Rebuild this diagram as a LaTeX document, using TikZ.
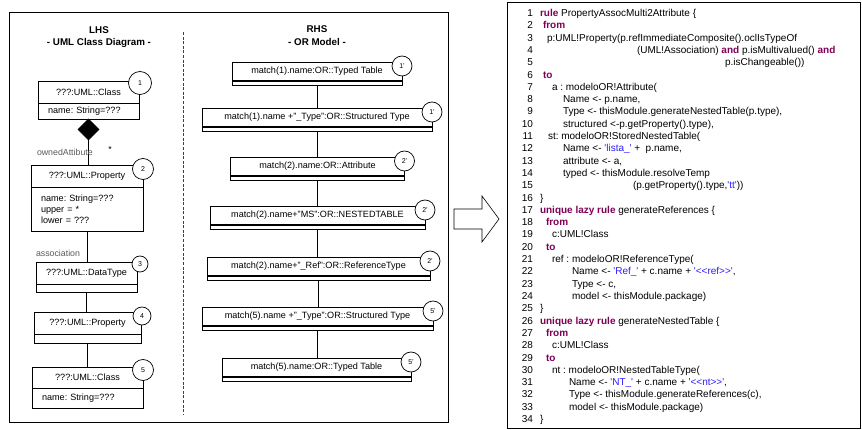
\documentclass[tikz,border=0pt]{standalone}
\usepackage{fontspec}
\setmainfont{Liberation Sans}
\usetikzlibrary{shapes.geometric}
\definecolor{kwcol}{RGB}{127,0,85}
\definecolor{strcol}{RGB}{45,30,255}
\definecolor{lblgray}{RGB}{90,90,90}
\newcommand\umlfont{\fontsize{9.1}{11}\selectfont}
\newcommand\rolefont{\fontsize{8.8}{11}\selectfont}
\newcommand\codefont{\fontsize{10}{12.3}\selectfont}
\newcommand\kwd[1]{\textbf{\color{kwcol}#1}}
\newcommand\strl[1]{{\color{strcol}#1}}
\newcommand\sq{\textquotesingle}
% one numbered line of the ATL listing: number, indent x, text
\newcommand\codeline[3]{%
  \node[lnum] (num#1) at (533,{16.6+(#1-1)*12.3}) {#1};
  \node[ctext] (line#1) at (#2,{16.6+(#1-1)*12.3}) {#3};}
\frenchspacing
\begin{document}
\frenchspacing
\begin{tikzpicture}[x=1pt,y=-1pt,
  every node/.style={inner sep=0pt, outer sep=0pt},
  umlname/.style={draw, line width=0.8pt, minimum height=22pt, font=\umlfont, anchor=north},
  umlattr/.style={draw, line width=0.8pt, font=\umlfont\frenchspacing, anchor=north, align=left, inner xsep=10pt},
  orname/.style={draw, line width=0.8pt, minimum height=19pt, font=\umlfont, anchor=north},
  orattr/.style={draw, line width=0.8pt, minimum height=4pt, anchor=north},
  thickrule/.style={line width=1.7pt},
  numcirc/.style={circle, draw, fill=white, line width=0.7pt, font=\fontsize{7}{8}\selectfont},
  link/.style={line width=0.8pt},
  title/.style={font=\bfseries\fontsize{9.8}{11}\selectfont},
  role/.style={font=\rolefont, text=lblgray, anchor=west},
  lnum/.style={anchor=base east, font=\codefont},
  ctext/.style={anchor=base west, font=\codefont\frenchspacing}]
\useasboundingbox (0,0) rectangle (862,430);
\fill[white] (0,0) rectangle (862,430);

% ---------------- transformation rule panel ----------------
\draw[line width=0.8pt] (9,12) rectangle (448,422);
\draw[dash pattern=on 3pt off 1.6pt, line width=0.6pt, black!75] (183,32) -- (183,415);

\node[title] (lhs) at (99,30) {LHS};
\node[title] (lhssub) at (99,43) {- UML Class Diagram -};
\node[title] (rhs) at (317,29) {RHS};
\node[title] (rhssub) at (317,42) {- OR Model -};

% LHS: UML class diagram pattern
\node[umlname, minimum width=101pt] (c1) at (88.5,81) {???:UML::Class};
\node[umlattr, text width=81pt, minimum height=16pt] (c1a) at (c1.south) {name: String=???};
\node[diamond, fill=black, draw, line width=0.6pt, minimum width=21pt, minimum height=21pt, anchor=north] (dia) at (c1a.south) {};

\node[umlname, minimum width=112pt] (c2) at (87,165) {???:UML::Property};
\node[umlattr, text width=92pt, minimum height=44pt] (c2a) at (c2.south) {name: String=???\\upper = *\\lower = ???};

\node[umlname, minimum width=101pt] (c3) at (86.5,262) {???:UML::DataType};
\node[umlattr, minimum width=101pt, minimum height=8pt] (c3a) at (c3.south) {};

\node[umlname, minimum width=107pt] (c4) at (87.5,312) {???:UML::Property};
\node[umlattr, minimum width=107pt, minimum height=9pt] (c4a) at (c4.south) {};

\node[umlname, minimum width=111pt, minimum height=21pt] (c5) at (87.5,367) {???:UML::Class};
\node[umlattr, text width=91pt, minimum height=20pt] (c5a) at (c5.south) {name: String=???};

\draw[link] (dia.south) -- (dia.south |- c2.north);
\draw[link] (c2a.south) -- (c2a.south |- c3.north);
\draw[link] (c3a.south) -- (c3a.south |- c4.north);
\draw[link] (c4a.south) -- (c4a.south |- c5.north);

\node[role] (own) at (37,152) {ownedAttibute};
\node[font=\rolefont] (mult) at (110,149) {*};
\node[role] (assoc) at (36,253) {association};

\node[numcirc, minimum size=23pt] (k1) at (140,83) {1};
\node[numcirc, minimum size=21pt] (k2) at (143,169) {2};
\node[numcirc, minimum size=16pt] (k3) at (140,264) {3};
\node[numcirc, minimum size=18pt] (k4) at (142,316) {4};
\node[numcirc, minimum size=21pt] (k5) at (143,370) {5};

% RHS: object-relational model
\node[orname, minimum width=170pt] (r1) at (317,62) {match(1).name:OR::Typed Table};
\node[orattr, minimum width=170pt] (r1a) at (r1.south) {};
\node[orname, minimum width=230pt] (r2) at (317,108) {match(1).name +"\_Type":OR::Structured Type};
\node[orattr, minimum width=230pt] (r2a) at (r2.south) {};
\node[orname, minimum width=174pt] (r3) at (317.5,157) {match(2).name:OR::Attribute};
\node[orattr, minimum width=174pt] (r3a) at (r3.south) {};
\node[orname, minimum width=215pt] (r4) at (317.5,206) {match(2).name+"MS":OR::NESTEDTABLE};
\node[orattr, minimum width=215pt] (r4a) at (r4.south) {};
\node[orname, minimum width=223pt] (r5) at (318.5,257) {match(2).name+"\_Ref":OR::ReferenceType};
\node[orattr, minimum width=223pt] (r5a) at (r5.south) {};
\node[orname, minimum width=231pt] (r6) at (317.5,307) {match(5).name +"\_Type":OR::Structured Type};
\node[orattr, minimum width=231pt] (r6a) at (r6.south) {};
\node[orname, minimum width=189pt] (r7) at (316.5,358) {match(5).name:OR::Typed Table};
\node[orattr, minimum width=189pt] (r7a) at (r7.south) {};

\foreach \b in {r1,r2,r3,r4,r5,r6,r7}
  \draw[thickrule] (\b.south west) -- (\b.south east);

\draw[link] (r1a.south) -- (r1a.south |- r2.north);
\draw[link] (r2a.south) -- (r2a.south |- r3.north);
\draw[link] (r3a.south) -- (r3a.south |- r4.north);
\draw[link] (r4a.south) -- (r4a.south |- r5.north);
\draw[link] (r5a.south) -- (r5a.south |- r6.north);
\draw[link] (r6a.south) -- (r6a.south |- r7.north);

\node[numcirc, minimum size=20pt] (q1) at ([yshift=-4pt]r1.north east) {1'};
\node[numcirc, minimum size=20pt] (q2) at ([yshift=-4pt]r2.north east) {1'};
\node[numcirc, minimum size=20pt] (q3) at ([yshift=-4pt]r3.north east) {2'};
\node[numcirc, minimum size=20pt] (q4) at ([yshift=-4pt]r4.north east) {2'};
\node[numcirc, minimum size=20pt] (q5) at ([yshift=-4pt]r5.north east) {2'};
\node[numcirc, minimum size=20pt] (q6) at ([yshift=-4pt]r6.north east) {5'};
\node[numcirc, minimum size=20pt] (q7) at ([yshift=-4pt]r7.north east) {5'};

% hollow block arrow
\draw[line width=0.6pt, fill=white] (454,209) -- (482,209) -- (482,196) -- (499,219)
  -- (482,242) -- (482,229) -- (454,229) -- cycle;

% ---------------- ATL listing ----------------
\draw[line width=0.8pt] (507,2) rectangle (860,428);
\codeline{1}{540}{\kwd{rule} PropertyAssocMulti2Attribute \{}
\codeline{2}{543}{\kwd{from}}
\codeline{3}{547}{p:UML!Property(p.refImmediateComposite().oclIsTypeOf}
\codeline{4}{637}{(UML!Association) \kwd{and} p.isMultivalued() \kwd{and}}
\codeline{5}{725}{p.isChangeable())}
\codeline{6}{543}{\kwd{to}}
\codeline{7}{552}{a : modeloOR!Attribute(}
\codeline{8}{563}{Name <- p.name,}
\codeline{9}{563}{Type <- thisModule.generateNestedTable(p.type),}
\codeline{10}{563}{structured <-p.getProperty().type),}
\codeline{11}{548}{st: modeloOR!StoredNestedTable(}
\codeline{12}{563}{Name <- \strl{\sq lista\_\sq} + \ p.name,}
\codeline{13}{563}{attribute <- a,}
\codeline{14}{563}{typed <- thisModule.resolveTemp}
\codeline{15}{633}{(p.getProperty().type,\strl{\sq tt\sq}))}
\codeline{16}{540}{\}}
\codeline{17}{540}{\kwd{unique lazy rule} generateReferences \{}
\codeline{18}{546}{\kwd{from}}
\codeline{19}{552}{c:UML!Class}
\codeline{20}{546}{\kwd{to}}
\codeline{21}{552}{ref : modeloOR!ReferenceType(}
\codeline{22}{572}{Name <- \strl{\sq Ref\_\sq} + c.name + \strl{\sq<\kern0pt<ref>\kern0pt>\sq},}
\codeline{23}{572}{Type <- c,}
\codeline{24}{572}{model <- thisModule.package)}
\codeline{25}{540}{\}}
\codeline{26}{540}{\kwd{unique lazy rule} generateNestedTable \{}
\codeline{27}{546}{\kwd{from}}
\codeline{28}{552}{c:UML!Class}
\codeline{29}{546}{\kwd{to}}
\codeline{30}{552}{nt : modeloOR!NestedTableType(}
\codeline{31}{569}{Name <- \strl{\sq NT\_\sq} + c.name + \strl{\sq<\kern0pt<nt>\kern0pt>\sq},}
\codeline{32}{569}{Type <- thisModule.generateReferences(c),}
\codeline{33}{569}{model <- thisModule.package)}
\codeline{34}{540}{\}}
\end{tikzpicture}
\end{document}
